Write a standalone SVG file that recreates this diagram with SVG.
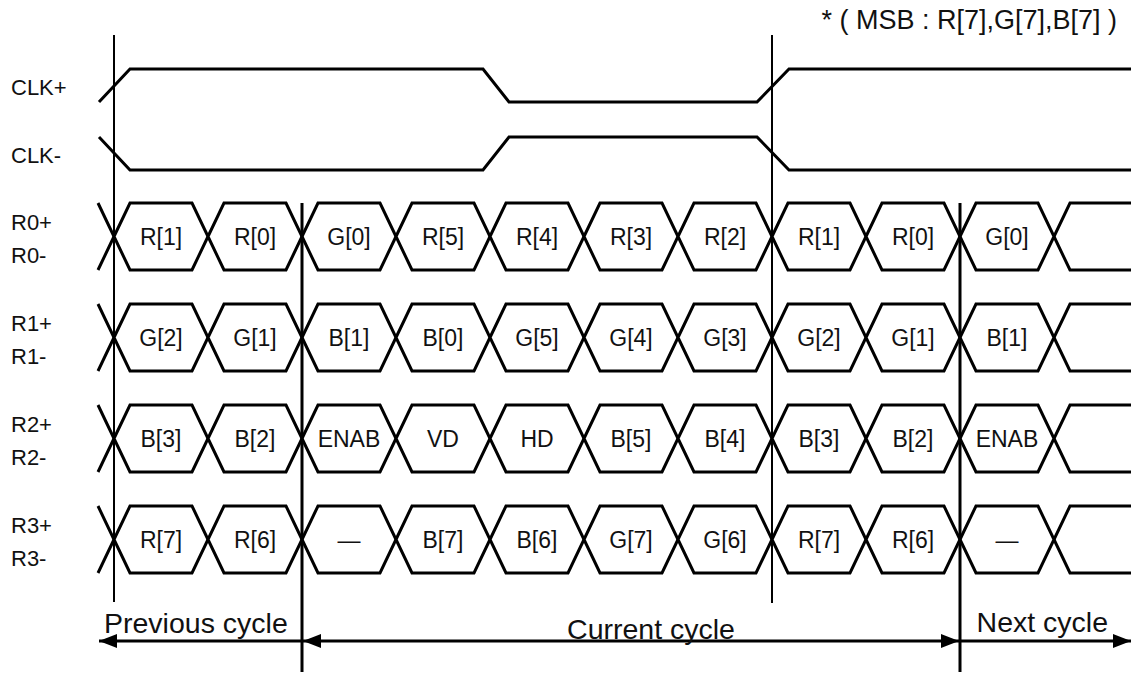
<svg xmlns="http://www.w3.org/2000/svg" xmlns:xlink="http://www.w3.org/1999/xlink" width="1131" height="673" viewBox="0 0 1131 673">
<style>
  .sig { fill: none; stroke: #000; stroke-width: 3; stroke-linejoin: miter; }
  .hex { fill: #fff; stroke: #000; stroke-width: 3; }
  .thin { stroke: #000; stroke-width: 2; }
  .thick { stroke: #000; stroke-width: 3; }
  .arr { stroke: #000; stroke-width: 3; fill: none; }
  text { font-family: "Liberation Sans", Arial, sans-serif; fill: #111; }
  .lbl { font-size: 22px; }
  .cell { font-size: 23px; text-anchor: middle; }
  .big { font-size: 28.5px; }
  .note { font-size: 27px; text-anchor: end; }
</style>
<defs>
  <polygon id="hex" class="hex" points="0,33.5 16,0 78,0 94,33.5 78,67 16,67"/>
  <marker id="ah" viewBox="0 0 18 14" refX="18" refY="7" markerWidth="18" markerHeight="14" markerUnits="userSpaceOnUse" orient="auto-start-reverse">
    <path d="M0,0 L18,7 L0,14 z" fill="#000"/>
  </marker>
</defs>

<text class="note" x="1117" y="29">* ( MSB : R[7],G[7],B[7] )</text>

<g id="clk-plus">
  <text class="lbl" x="11" y="95">CLK+</text>
  <path class="sig" d="M99,102 L130,69 L483,69 L509,102 L757,102 L789,69 L1131,69"/>
</g>
<g id="clk-minus">
  <text class="lbl" x="11" y="163">CLK-</text>
  <path class="sig" d="M99,137 L130,170 L483,170 L509,137 L757,137 L789,170 L1131,170"/>
</g>

<g id="r0">
  <text class="lbl" x="11" y="230">R0+</text>
  <text class="lbl" x="11" y="263">R0-</text>
  <path class="sig" d="M98,203 L114,236.5 L98,270 M1131,203 L1070,203 L1054,236.5 L1070,270 L1131,270"/>
  <use xlink:href="#hex" x="114" y="203"/><use xlink:href="#hex" x="208" y="203"/><use xlink:href="#hex" x="302" y="203"/><use xlink:href="#hex" x="396" y="203"/><use xlink:href="#hex" x="490" y="203"/><use xlink:href="#hex" x="584" y="203"/><use xlink:href="#hex" x="678" y="203"/><use xlink:href="#hex" x="772" y="203"/><use xlink:href="#hex" x="866" y="203"/><use xlink:href="#hex" x="960" y="203"/>
  <text class="cell" x="161" y="244.5">R[1]</text><text class="cell" x="255" y="244.5">R[0]</text><text class="cell" x="349" y="244.5">G[0]</text><text class="cell" x="443" y="244.5">R[5]</text><text class="cell" x="537" y="244.5">R[4]</text><text class="cell" x="631" y="244.5">R[3]</text><text class="cell" x="725" y="244.5">R[2]</text><text class="cell" x="819" y="244.5">R[1]</text><text class="cell" x="913" y="244.5">R[0]</text><text class="cell" x="1007" y="244.5">G[0]</text>
</g>

<g id="r1">
  <text class="lbl" x="11" y="331">R1+</text>
  <text class="lbl" x="11" y="364">R1-</text>
  <path class="sig" d="M98,304 L114,337.5 L98,371 M1131,304 L1070,304 L1054,337.5 L1070,371 L1131,371"/>
  <use xlink:href="#hex" x="114" y="304"/><use xlink:href="#hex" x="208" y="304"/><use xlink:href="#hex" x="302" y="304"/><use xlink:href="#hex" x="396" y="304"/><use xlink:href="#hex" x="490" y="304"/><use xlink:href="#hex" x="584" y="304"/><use xlink:href="#hex" x="678" y="304"/><use xlink:href="#hex" x="772" y="304"/><use xlink:href="#hex" x="866" y="304"/><use xlink:href="#hex" x="960" y="304"/>
  <text class="cell" x="161" y="345.5">G[2]</text><text class="cell" x="255" y="345.5">G[1]</text><text class="cell" x="349" y="345.5">B[1]</text><text class="cell" x="443" y="345.5">B[0]</text><text class="cell" x="537" y="345.5">G[5]</text><text class="cell" x="631" y="345.5">G[4]</text><text class="cell" x="725" y="345.5">G[3]</text><text class="cell" x="819" y="345.5">G[2]</text><text class="cell" x="913" y="345.5">G[1]</text><text class="cell" x="1007" y="345.5">B[1]</text>
</g>

<g id="r2">
  <text class="lbl" x="11" y="432">R2+</text>
  <text class="lbl" x="11" y="465">R2-</text>
  <path class="sig" d="M98,405 L114,438.5 L98,472 M1131,405 L1070,405 L1054,438.5 L1070,472 L1131,472"/>
  <use xlink:href="#hex" x="114" y="405"/><use xlink:href="#hex" x="208" y="405"/><use xlink:href="#hex" x="302" y="405"/><use xlink:href="#hex" x="396" y="405"/><use xlink:href="#hex" x="490" y="405"/><use xlink:href="#hex" x="584" y="405"/><use xlink:href="#hex" x="678" y="405"/><use xlink:href="#hex" x="772" y="405"/><use xlink:href="#hex" x="866" y="405"/><use xlink:href="#hex" x="960" y="405"/>
  <text class="cell" x="161" y="446.5">B[3]</text><text class="cell" x="255" y="446.5">B[2]</text><text class="cell" x="349" y="446.5">ENAB</text><text class="cell" x="443" y="446.5">VD</text><text class="cell" x="537" y="446.5">HD</text><text class="cell" x="631" y="446.5">B[5]</text><text class="cell" x="725" y="446.5">B[4]</text><text class="cell" x="819" y="446.5">B[3]</text><text class="cell" x="913" y="446.5">B[2]</text><text class="cell" x="1007" y="446.5">ENAB</text>
</g>

<g id="r3">
  <text class="lbl" x="11" y="533">R3+</text>
  <text class="lbl" x="11" y="566">R3-</text>
  <path class="sig" d="M98,506 L114,539.5 L98,573 M1131,506 L1070,506 L1054,539.5 L1070,573 L1131,573"/>
  <use xlink:href="#hex" x="114" y="506"/><use xlink:href="#hex" x="208" y="506"/><use xlink:href="#hex" x="302" y="506"/><use xlink:href="#hex" x="396" y="506"/><use xlink:href="#hex" x="490" y="506"/><use xlink:href="#hex" x="584" y="506"/><use xlink:href="#hex" x="678" y="506"/><use xlink:href="#hex" x="772" y="506"/><use xlink:href="#hex" x="866" y="506"/><use xlink:href="#hex" x="960" y="506"/>
  <text class="cell" x="161" y="547.5">R[7]</text><text class="cell" x="255" y="547.5">R[6]</text><text class="cell" x="349" y="547.5">—</text><text class="cell" x="443" y="547.5">B[7]</text><text class="cell" x="537" y="547.5">B[6]</text><text class="cell" x="631" y="547.5">G[7]</text><text class="cell" x="725" y="547.5">G[6]</text><text class="cell" x="819" y="547.5">R[7]</text><text class="cell" x="913" y="547.5">R[6]</text><text class="cell" x="1007" y="547.5">—</text>
</g>

<g id="markers">
  <line class="thin" x1="114" y1="35" x2="114" y2="602"/>
  <line class="thin" x1="772" y1="35" x2="772" y2="603"/>
  <line class="thick" x1="302" y1="203" x2="302" y2="672"/>
  <line class="thick" x1="960" y1="203" x2="960" y2="672"/>
</g>

<g id="connectors">
  <line class="arr" x1="302" y1="641" x2="99" y2="641" marker-end="url(#ah)"/>
  <line class="arr" x1="303" y1="641" x2="959" y2="641" marker-start="url(#ah)" marker-end="url(#ah)"/>
  <line class="arr" x1="960" y1="641" x2="1131" y2="641" marker-end="url(#ah)"/>
</g>

<g id="cycle-labels">
  <text class="big" x="104" y="633">Previous cycle</text>
  <text class="big" x="651" y="639" text-anchor="middle">Current cycle</text>
  <text class="big" x="1108" y="632" text-anchor="end">Next cycle</text>
</g>
</svg>
